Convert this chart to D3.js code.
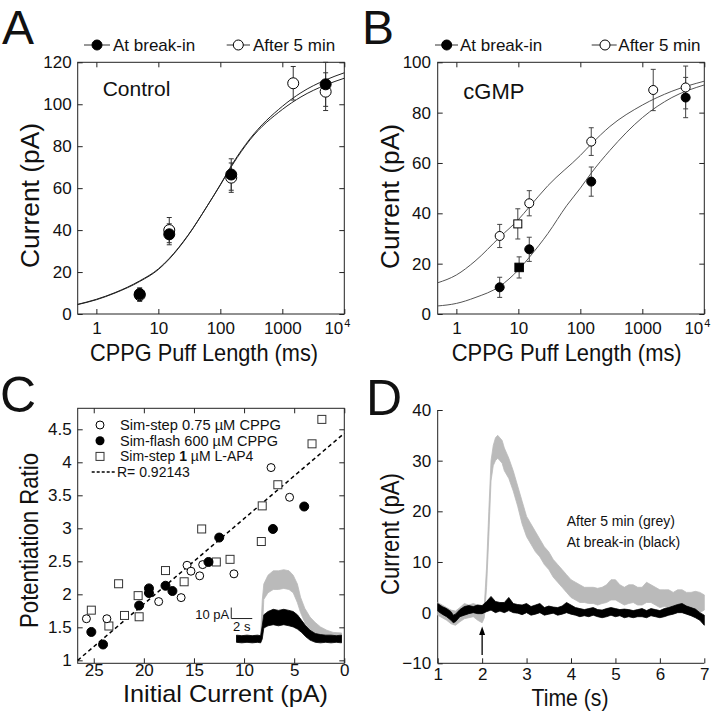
<!DOCTYPE html>
<html><head><meta charset="utf-8">
<script src="https://cdn.jsdelivr.net/npm/d3@7"></script>
<style>
body{margin:0;background:#fff}
svg{display:block}
text{font-family:"Liberation Sans",Arial,Helvetica,sans-serif;fill:#111}
</style>
</head><body>
<svg id="c" width="720" height="712"></svg>
<script>
// ---------------- DATA ----------------
// Panel A (Control)
const aBreakIn = [{x:5,y:9.5,err:3},{x:15,y:38,err:5},{x:150,y:66.5,err:7.5},{x:5000,y:109.5,err:10.5}];
const aAfter5  = [{x:5,y:9,err:3},{x:15,y:40,err:6},{x:150,y:65,err:7},{x:1500,y:110,err:8},{x:5000,y:106,err:9}];
const aFitBreakIn = [[0.5,4.6],[1,7],[2,10.2],[5,15.8],[10,21.5],[15,26.5],[30,37.5],[60,51],[100,61.5],[160,71.5],[300,83],[1000,97.5],[2000,103.5],[5000,109.2],[10000,112.4]];
const aFitAfter5  = [[0.5,4.5],[1,6.8],[2,10],[5,15.5],[10,21.2],[15,26.2],[30,37.3],[60,51],[100,61.7],[160,72],[300,83.5],[1000,99],[2000,105.5],[5000,111.6],[10000,115]];
// Panel B (cGMP)
const bBreakIn = [{x:5,y:10.6,err:4},{x:15,y:25.7,err:4.8},{x:150,y:52.6,err:5.8},{x:5000,y:86,err:8}];
const bAfter5  = [{x:5,y:31,err:4.6},{x:15,y:44,err:5},{x:150,y:68.5,err:5.5},{x:1500,y:89,err:8.2},{x:5000,y:90,err:8.5}];
const bBreakInSq = [{x:10.3,y:18.5,err:4.2}];
const bAfter5Sq  = [{x:9.8,y:35.8,err:6}];
const bFitBreakIn = [[0.5,3.2],[1,4.2],[2,6.5],[5,11],[10,17.5],[15,22.5],[30,32],[60,43],[100,50],[150,56],[300,65],[1000,78],[3000,86],[10000,91]];
const bFitAfter5  = [[0.5,12.4],[1,15.5],[2,21],[5,30.5],[10,37.5],[15,42.5],[30,51],[100,63],[150,67.5],[300,74.5],[1000,83],[3000,88.5],[10000,92.5]];
const puffTicks = [1,10,100,1000,10000];
const aYTicks = [0,20,40,60,80,100,120];
const bYTicks = [0,20,40,60,80,100];
// Panel C
const cStepCPPG  = [[25.73,1.63],[23.69,1.63],[18.52,1.89],[16.28,1.95],[15.69,2.44],[15.30,2.35],[14.43,2.28],[14.13,2.45],[11.01,2.31],[7.31,3.92],[5.46,3.47]];
const cFlashCPPG = [[25.24,1.43],[24.07,1.24],[20.47,1.83],[19.49,2.09],[19.49,2.02],[17.84,2.13],[17.15,2.05],[13.55,2.49],[12.48,2.86],[7.12,2.99],[4.0,3.33]];
const cStepLAP4  = [[25.24,1.76],[23.49,1.52],[22.52,2.16],[21.93,1.68],[20.57,1.98],[20.47,1.66],[17.84,2.36],[15.98,2.19],[14.23,2.99],[12.77,2.49],[11.40,2.53],[8.28,2.80],[8.19,3.34],[6.63,3.66],[3.22,4.28],[2.24,4.65]];
const cRegression = [[26.6,1.0],[0,4.44]];
const cXTicks = [25,20,15,10,5,0];
const cYTicks = [1,1.5,2,2.5,3,3.5,4,4.5];
const cLegend = ["Sim-step 0.75 \u00b5M CPPG","Sim-flash 600 \u00b5M CPPG","Sim-step 1 \u00b5M L-AP4","R= 0.92143"];
// inset traces of panel C: [time s, low pA, high pA]
const insetBlack = [[0,-3,3.5],[0.5,-3.5,3],[1,-3,3.5],[1.5,-3.5,3],[2,-3,3.5],[2.3,-3.5,3],[2.45,0,12],[2.6,10,22],[3,12,25],[3.5,13,27],[4,12,26],[4.5,13,27],[5,12,26],[5.4,11,25],[5.8,9,22],[6.2,6,17],[6.6,2,12],[7,-1,8],[7.5,-3,5],[8,-3.5,4],[8.5,-3,3.5],[9,-3.5,3.5],[9.5,-3,3],[10,-3.5,3.5]];
const insetGrey  = [[0,-3,3],[2.3,-3,3],[2.45,5,35],[2.6,36,50],[3,42,58],[3.5,45,62],[4,45,62],[4.5,46,63],[5,45,62],[5.4,42,58],[5.8,33,50],[6.1,24,38],[6.5,15,28],[7,8,20],[7.5,4,15],[8,1,11],[8.6,-1,8],[9.2,-2,6],[10,-2.7,5.5]];
// Panel D: [time s, low pA, high pA]
const dGrey = [[1.0,-0.5,2.0],[1.1,-1.0,1.5],[1.2,-1.5,1.0],[1.3,-2.2,0.5],[1.4,-2.5,0.3],[1.5,-1.8,1.0],[1.6,-1.2,1.8],[1.7,-1.0,1.5],[1.8,-0.8,1.8],[1.9,-1.5,1.5],[2.0,-2.0,1.2],[2.05,-1.0,1.5],[2.1,5,9],[2.15,15,20],[2.2,26,30],[2.25,29,33],[2.3,30,34.5],[2.35,30.5,35],[2.4,30,34.5],[2.45,29.5,34],[2.5,28,32.5],[2.6,26.5,30.5],[2.7,24,28],[2.8,21,25],[2.9,17.5,22],[3.0,15,19],[3.1,13.5,17.5],[3.2,12,16],[3.3,11,14.5],[3.4,9.5,13],[3.5,8.5,12],[3.6,7,10.5],[3.7,6,9.5],[3.8,5,8.5],[3.9,4,7.5],[4.0,3,6.5],[4.1,2.5,6],[4.2,2,5.5],[4.3,2,5],[4.4,1.8,5],[4.5,1.8,5],[4.6,1.5,4.8],[4.7,1.8,5],[4.8,2,5.5],[4.9,2.5,6.5],[5.0,2.5,6.5],[5.1,2,5.5],[5.2,1.5,5],[5.3,1.8,5.5],[5.4,2,5.5],[5.5,1.5,5],[5.6,1.5,5],[5.7,2,6],[5.8,2,5.5],[5.9,1.5,5],[6.0,1,4.5],[6.1,1.2,4.5],[6.2,1,4.5],[6.3,0.8,4],[6.4,0.8,4.5],[6.5,0.5,4.5],[6.6,0.5,4],[6.7,0.5,4],[6.8,0.5,4.2],[6.9,0,4],[7.0,0.5,3.5]];
const dBlack = [[1.0,0.3,1.8],[1.1,-0.3,1.2],[1.2,-0.8,0.8],[1.3,-1.5,0.2],[1.35,-2,-0.5],[1.4,-1.8,-0.3],[1.5,-0.8,0.6],[1.6,-0.5,1.2],[1.7,-0.2,1.4],[1.8,0,1.2],[1.9,-0.2,1.5],[2.0,-0.2,1.4],[2.1,0.2,2.2],[2.2,0.5,3.2],[2.3,0,2.2],[2.4,0.3,2.0],[2.5,0,2.0],[2.6,0.4,3.0],[2.7,0,1.8],[2.8,-0.1,1.6],[2.9,-0.4,1.5],[3.0,0,1.8],[3.1,-0.5,1.2],[3.2,-0.3,1.5],[3.3,0,1.8],[3.4,-0.5,1.0],[3.5,-0.3,1.3],[3.6,-0.1,1.1],[3.7,-0.5,1.0],[3.8,-0.3,1.3],[3.9,0,2.0],[4.0,-0.3,1.5],[4.1,-0.5,1.0],[4.2,-0.8,0.8],[4.3,-0.6,0.6],[4.4,-0.8,0.8],[4.5,-0.5,1.0],[4.6,-0.8,0.6],[4.7,-1,0.5],[4.8,-0.8,0.8],[4.9,-0.5,1.0],[5.0,-0.8,0.8],[5.1,-0.6,0.6],[5.2,-1,0.7],[5.3,-0.8,0.6],[5.4,-1,0.4],[5.5,-0.8,0.6],[5.6,-0.8,0.8],[5.7,-1,0.4],[5.8,-0.6,0.8],[5.9,-0.8,0.6],[6.0,-1,0.4],[6.1,-0.8,0.8],[6.2,-0.5,1.0],[6.3,-0.3,1.3],[6.4,0,1.6],[6.5,0,1.8],[6.6,-0.3,1.3],[6.7,-0.6,1.0],[6.8,-1,0.7],[6.9,-1.5,0],[7.0,-2.5,-0.5]];
const dXTicks = [1,2,3,4,5,6,7];
const dYTicks = [-10,0,10,20,30,40];
const dStimTime = 2;

// ---------------- DRAWING ----------------
const svg = d3.select("#c");
const INK = "#111";
const GREY = "#bababa";

function styleAxis(g, fs){
  g.select(".domain").remove();
  g.selectAll(".tick line").attr("stroke","#222");
  g.selectAll("text").attr("font-family",'"Liberation Sans",Arial,Helvetica,sans-serif').attr("font-size",fs).attr("fill",INK);
  g.attr("font-family",null).attr("font-size",null);
}
function boxAxes(x, y, xt, yt, xfmt, yfmt, xpad, ypad, fs){
  const xr = x.range(), yr = y.range();
  const L = Math.min(...xr), R = Math.max(...xr), T = Math.min(...yr), B = Math.max(...yr);
  svg.append("g").attr("transform",`translate(0,${B})`).call(d3.axisBottom(x).tickValues(xt).tickFormat(xfmt).tickSizeInner(-5).tickSizeOuter(0).tickPadding(xpad)).call(g=>styleAxis(g,fs));
  svg.append("g").attr("transform",`translate(0,${T})`).call(d3.axisTop(x).tickValues(xt).tickFormat(()=>"").tickSizeInner(-5).tickSizeOuter(0)).call(g=>styleAxis(g,fs));
  svg.append("g").attr("transform",`translate(${L},0)`).call(d3.axisLeft(y).tickValues(yt).tickFormat(yfmt).tickSizeInner(-5).tickSizeOuter(0).tickPadding(ypad)).call(g=>styleAxis(g,fs));
  svg.append("g").attr("transform",`translate(${R},0)`).call(d3.axisRight(y).tickValues(yt).tickFormat(()=>"").tickSizeInner(-5).tickSizeOuter(0)).call(g=>styleAxis(g,fs));
  svg.append("rect").attr("x",L).attr("y",T).attr("width",R-L).attr("height",B-T).attr("fill","none").attr("stroke","#222").attr("stroke-width",1);
}
function label(txt, x, y, fs, opts={}){
  const t = svg.append("text").attr("x",x).attr("y",y).attr("font-size",fs).text(txt);
  if(opts.anchor) t.attr("text-anchor",opts.anchor);
  if(opts.len) t.attr("textLength",opts.len).attr("lengthAdjust","spacingAndGlyphs");
  if(opts.rot) t.attr("transform",`rotate(-90,${x},${y})`);
  return t;
}
function superTen(x, yBase){
  svg.append("text").attr("x",x-1).attr("y",yBase).attr("text-anchor","end").attr("font-size",17).text("10");
  svg.append("text").attr("x",x).attr("y",yBase-7).attr("font-size",11).text("4");
}
function errBars(data, x, y, col){
  const g = svg.append("g").attr("stroke",col).attr("stroke-width",1);
  data.forEach(d=>{
    const px = x(d.x);
    g.append("line").attr("x1",px).attr("x2",px).attr("y1",y(d.y-d.err)).attr("y2",y(d.y+d.err));
    [d.y-d.err, d.y+d.err].forEach(v=>g.append("line").attr("x1",px-2.5).attr("x2",px+2.5).attr("y1",y(v)).attr("y2",y(v)));
  });
}
function circles(data, x, y, r, filled){
  svg.append("g").selectAll("circle").data(data).join("circle")
    .attr("cx",d=>x(d.x)).attr("cy",d=>y(d.y)).attr("r",r)
    .attr("fill",filled?"#000":"#fff").attr("stroke","#000").attr("stroke-width",1);
}
function squares(data, x, y, s, filled, col="#000"){
  svg.append("g").selectAll("rect").data(data).join("rect")
    .attr("x",d=>x(d.x)-s/2).attr("y",d=>y(d.y)-s/2).attr("width",s).attr("height",s)
    .attr("fill",filled?"#000":"#fff").attr("stroke",col).attr("stroke-width",1);
}
function fitLine(pts, x, y, col){
  svg.append("path").datum(pts).attr("fill","none").attr("stroke",col).attr("stroke-width",1)
    .attr("d", d3.line().x(d=>x(d[0])).y(d=>y(d[1])).curve(d3.curveMonotoneX));
}
function legendItem(xl0, xl1, xm, y, filled, txt, tx, r){
  svg.append("line").attr("x1",xl0).attr("x2",xl1).attr("y1",y).attr("y2",y).attr("stroke","#333");
  svg.append("circle").attr("cx",xm).attr("cy",y).attr("r",r).attr("fill",filled?"#000":"#fff").attr("stroke","#000");
  label(txt, tx, y+6, 17);
}

// ---- Panel A ----
const xA = d3.scaleLog().domain([0.5,10000]).range([77.7,344.3]);
const yA = d3.scaleLinear().domain([0,120]).range([314,62.3]);
const puffFmt = d=> d===10000 ? "" : String(d);
boxAxes(xA, yA, puffTicks, aYTicks, puffFmt, d=>d, 8, 6, 17);
superTen(xA(10000), 334);
fitLine(aFitBreakIn, xA, yA, "#222");
fitLine(aFitAfter5, xA, yA, "#222");
errBars(aAfter5, xA, yA, "#333");
errBars(aBreakIn, xA, yA, "#333");
circles(aAfter5, xA, yA, 5.5, false);
circles(aBreakIn, xA, yA, 5.5, true);
label("Control", 102.7, 96, 21);
legendItem(84,110,97,45,true,"At break-in",113,5);
legendItem(226.7,250,238.3,45,false,"After 5 min",253,5);
label("A", 2, 44, 48);
label("Current (pA)", 39.3, 195.5, 26, {anchor:"middle", len:145, rot:true});
label("CPPG Puff Length (ms)", 204, 361, 24, {anchor:"middle", len:228});

// ---- Panel B ----
const xB = d3.scaleLog().domain([0.5,10000]).range([437.7,704.3]);
const yB = d3.scaleLinear().domain([0,100]).range([314,62.3]);
boxAxes(xB, yB, puffTicks, bYTicks, puffFmt, d=>d, 8, 6.7, 17);
superTen(xB(10000), 334);
fitLine(bFitBreakIn, xB, yB, "#555");
fitLine(bFitAfter5, xB, yB, "#555");
errBars(bAfter5.concat(bAfter5Sq), xB, yB, "#444");
errBars(bBreakIn.concat(bBreakInSq), xB, yB, "#444");
circles(bAfter5, xB, yB, 4.5, false);
circles(bBreakIn, xB, yB, 4.5, true);
squares(bAfter5Sq, xB, yB, 8, false);
squares(bBreakInSq, xB, yB, 8.5, true);
label("cGMP", 463.3, 99, 22);
legendItem(435,458,446.7,45,true,"At break-in",460,5);
legendItem(591.7,616.7,605,45,false,"After 5 min",618.3,5);
label("B", 362, 44, 48);
label("Current (pA)", 399.3, 196.5, 26, {anchor:"middle", len:145, rot:true});
label("CPPG Puff Length (ms)", 566.7, 361, 24, {anchor:"middle", len:230});

// ---- Panel C ----
const xC = d3.scaleLinear().domain([26.6,0]).range([77.7,344.3]);
const yC = d3.scaleLinear().domain([0.955,4.818]).range([663.3,408.3]);
boxAxes(xC, yC, cXTicks, cYTicks, d=>d, d=>d, 1, 6, 17);
// inset traces
const xI = d3.scaleLinear().domain([0,10]).range([236.5,341.5]);
const yI = d3.scaleLinear().domain([0,10]).range([639,628]);
const bandI = d3.area().x(d=>xI(d[0])).y0(d=>yI(d[1])).y1(d=>yI(d[2]));
svg.append("path").datum(insetGrey).attr("d",bandI).attr("fill",GREY).attr("stroke",GREY).attr("stroke-width",0.8);
svg.append("path").datum(insetBlack).attr("d",bandI).attr("fill","#000").attr("stroke","#000").attr("stroke-width",0.8);
// scale bar (10 pA, 2 s)
svg.append("path").attr("fill","none").attr("stroke","#222").attr("stroke-width",1)
  .attr("d",`M${xI(-0.5)},${yI(28.6)}V${yI(18.6)}H${xI(1.5)}`);
label("10 pA", xI(-0.5)-2, yI(18.6), 13, {anchor:"end"});
label("2 s", xI(0.5), yI(18.6)+12, 13, {anchor:"middle"});
// regression
svg.append("path").datum(cRegression).attr("fill","none").attr("stroke","#000").attr("stroke-width",1.5).attr("stroke-dasharray","4,3")
  .attr("d", d3.line().x(d=>xC(d[0])).y(d=>yC(d[1])));
const cp = a=>a.map(d=>({x:d[0],y:d[1]}));
squares(cp(cStepLAP4), xC, yC, 8, false, "#333");
circles(cp(cStepCPPG), xC, yC, 4, false);
circles(cp(cFlashCPPG), xC, yC, 4.5, true);
// legend C
const cly = [425, 440.7, 456.4, 472];
svg.append("circle").attr("cx",100).attr("cy",cly[0]).attr("r",4).attr("fill","#fff").attr("stroke","#000");
svg.append("circle").attr("cx",100).attr("cy",cly[1]).attr("r",4.5).attr("fill","#000");
svg.append("rect").attr("x",96).attr("y",cly[2]-4).attr("width",8).attr("height",8).attr("fill","#fff").attr("stroke","#333");
svg.append("line").attr("x1",91.7).attr("x2",116.7).attr("y1",cly[3]).attr("y2",cly[3]).attr("stroke","#000").attr("stroke-width",1.5).attr("stroke-dasharray","3,2");
const lfs = 14;
label(cLegend[0], 120, cly[0]+5, lfs, {len:161});
label(cLegend[1], 120, cly[1]+5, lfs, {len:158});
const l3 = svg.append("text").attr("x",120).attr("y",cly[2]+5).attr("font-size",lfs);
l3.append("tspan").text("Sim-step ");
l3.append("tspan").attr("font-weight","bold").text("1");
l3.append("tspan").text(" \u00b5M L-AP4");
label(cLegend[3], 117, cly[3]+5, lfs);
label("C", 0, 412, 50);
label("Potentiation Ratio", 38.3, 540.5, 26, {anchor:"middle", len:175, rot:true});
label("Initial Current (pA)", 225.5, 702, 24, {anchor:"middle", len:205});

// ---- Panel D ----
const xD = d3.scaleLinear().domain([1,7]).range([437.7,704.3]);
const yD = d3.scaleLinear().domain([-10,40]).range([663.3,410]);
svg.append("g").attr("transform","translate(0,663.3)").call(d3.axisBottom(xD).tickValues(dXTicks).tickFormat(d3.format("d")).tickSizeInner(-5).tickSizeOuter(0).tickPadding(5)).call(g=>styleAxis(g,17));
svg.append("g").attr("transform","translate(437.7,0)").call(d3.axisLeft(yD).tickValues(dYTicks).tickFormat(d3.format("d")).tickSizeInner(-5).tickSizeOuter(0).tickPadding(6.5)).call(g=>styleAxis(g,17));
svg.append("line").attr("x1",437.7).attr("x2",704.3).attr("y1",663.3).attr("y2",663.3).attr("stroke","#222");
svg.append("line").attr("x1",437.7).attr("x2",437.7).attr("y1",410).attr("y2",663.3).attr("stroke","#222");
const bandD = d3.area().x(d=>xD(d[0])).y0(d=>yD(d[1])).y1(d=>yD(d[2]));
svg.append("path").datum(dGrey).attr("d",bandD).attr("fill",GREY).attr("stroke",GREY).attr("stroke-width",0.8);
svg.append("path").datum(dBlack).attr("d",bandD).attr("fill","#000").attr("stroke","#000").attr("stroke-width",0.8);
// stimulus arrow
const ax = xD(dStimTime);
svg.append("line").attr("x1",ax).attr("x2",ax).attr("y1",655).attr("y2",632).attr("stroke","#000").attr("stroke-width",1.3);
svg.append("path").attr("d",`M${ax},626.5L${ax-3},635L${ax+3},635Z`).attr("fill","#000");
label("After 5 min (grey)", 566.7, 526, 14);
label("At break-in (black)", 566.7, 546.5, 14);
label("D", 366, 415, 50);
label("Current (pA)", 399, 534, 26, {anchor:"middle", len:122, rot:true});
label("Time (s)", 570, 706, 24, {anchor:"middle", len:77});
</script>
</body></html>
